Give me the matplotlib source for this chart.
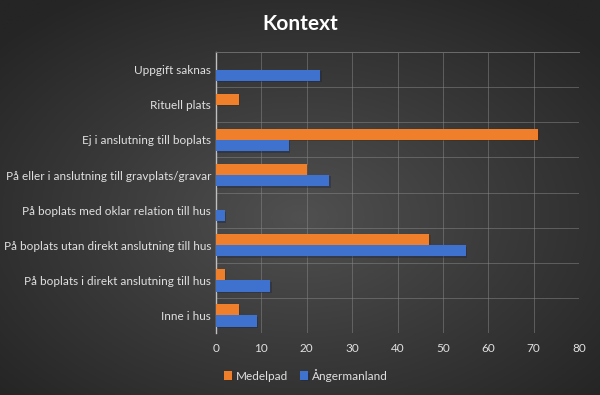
import matplotlib.pyplot as plt
import matplotlib.patheffects as pe
from matplotlib.colors import LinearSegmentedColormap
import numpy as np

categories = ["Inne i hus",
              "På boplats i direkt anslutning till hus",
              "På boplats utan direkt anslutning till hus",
              "På boplats med oklar relation till hus",
              "På eller i anslutning till gravplats/gravar",
              "Ej i anslutning till boplats",
              "Rituell plats",
              "Uppgift saknas"]
medelpad = [5, 2, 47, 0, 20, 71, 5, 0]
angermanland = [9, 12, 55, 2, 25, 16, 0, 23]
x_ticks = [0, 10, 20, 30, 40, 50, 60, 70, 80]

plt.rcParams['font.family'] = ['Lato', 'DejaVu Sans']

fig = plt.figure(figsize=(6, 3.95), dpi=100)

# radial gradient background, lighter in the middle
bg = fig.add_axes([0, 0, 1, 1], zorder=0)
yy, xx = np.mgrid[-1:1:300j, -1:1:460j]
r = np.clip(np.sqrt(xx ** 2 + (yy - 0.1) ** 2) / 1.35, 0, 1)
cmap = LinearSegmentedColormap.from_list('bg', ['#505050', '#3a3a3a', '#252525'])
bg.imshow(r, cmap=cmap, vmin=0, vmax=1, aspect='auto', extent=[0, 1, 0, 1])
bg.set_axis_off()

ax = fig.add_axes([0.36, 0.157, 0.605, 0.711], zorder=1)
ax.patch.set_alpha(0)

y = np.arange(len(categories))
h = 0.32
shadow = [pe.SimplePatchShadow(offset=(1, -1), alpha=0.35), pe.Normal()]
ax.barh(y + h / 2, medelpad, height=h, color='#f07f2c', label='Medelpad',
        path_effects=shadow, zorder=3)
ax.barh(y - h / 2, angermanland, height=h, color='#3f72cf', label='Ångermanland',
        path_effects=shadow, zorder=3)

ax.set_xlim(0, 80)
ax.set_ylim(-0.5, len(categories) - 0.5)
ax.set_xticks(x_ticks)
ax.set_yticks(y)
ax.set_yticklabels(categories)
ax.set_yticks(np.arange(-0.5, len(categories), 1), minor=True)
ax.tick_params(axis='both', length=0, colors='#e0e0e0', labelsize=8.5)
ax.tick_params(axis='x', pad=7)
ax.tick_params(axis='y', which='minor', length=0)
ax.grid(axis='x', color='#8a8a8a', linewidth=0.7, alpha=0.5, zorder=0)
ax.grid(axis='y', which='minor', color='#8a8a8a', linewidth=0.7, alpha=0.5, zorder=0)
for s in ['right', 'bottom']:
    ax.spines[s].set_visible(False)
ax.spines['top'].set_color('#6a6a6a')
ax.spines['top'].set_linewidth(0.7)
ax.spines['left'].set_color('#bfbfbf')
ax.spines['left'].set_linewidth(1.0)

fig.text(0.5, 0.938, "Kontext", ha='center', va='center', color='white',
         fontsize=15, fontweight='bold')

handles, labels = ax.get_legend_handles_labels()
fig.legend(handles, labels, loc='center', bbox_to_anchor=(0.51, 0.05), ncol=2,
           frameon=False, fontsize=8.5, labelcolor='#e0e0e0',
           handlelength=0.7, handleheight=0.7, handletextpad=0.3, columnspacing=1.0)

fig.savefig('out.png', dpi=100)
